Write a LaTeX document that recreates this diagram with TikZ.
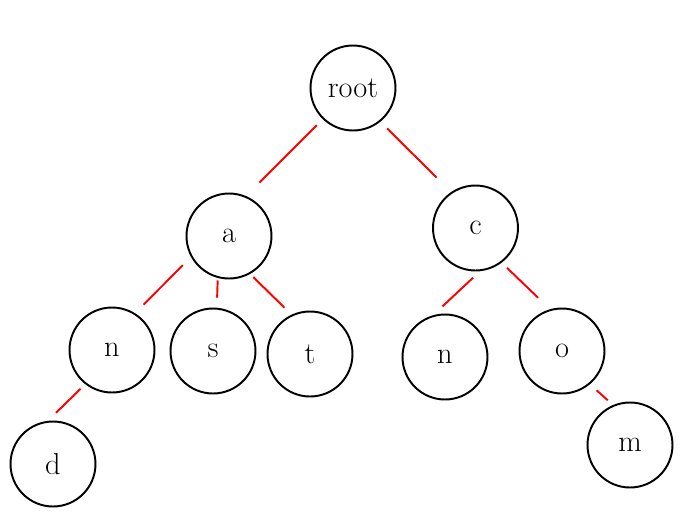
\documentclass[tikz,border=0pt]{standalone}
\begin{document}
\begin{tikzpicture}[
				x=0.02cm, y=-0.02cm,
				trienode/.style={circle, draw, line width=1.1pt, minimum size=1.7cm, inner sep=0pt, font=\LARGE},
				trieedge/.style={red, line width=1.1pt}
			]
			\useasboundingbox (0,0) rectangle (691,525);
			\node[trienode] (root) at (353,88) { root };
			\node[trienode] (a) at (229,236) { a };
			\node[trienode] (c) at (475.5,228) { c };
			\node[trienode] (an) at (112,350) { n };
			\node[trienode] (as) at (213,351) { s };
			\node[trienode] (at) at (310,354) { t };
			\node[trienode] (cn) at (445,357) { n };
			\node[trienode] (co) at (562,351) { o };
			\node[trienode] (and) at (53,464) { d };
			\node[trienode] (com) at (630,445) { m };
			\draw[trieedge, shorten <=0.17cm, shorten >=0.38cm] (root.226) -- (a.67);
			\draw[trieedge, shorten <=0.19cm, shorten >=0.41cm] (root.309) -- (c.124);
			\draw[trieedge, shorten <=0.23cm, shorten >=0.24cm] (a.209) -- (an.58);
			\draw[trieedge, shorten <=0.05cm, shorten >=0.2cm] (a.255) -- (as.85);
			\draw[trieedge, shorten <=0.09cm, shorten >=0.2cm] (a.299) -- (at.115);
			\draw[trieedge, shorten <=0.13cm, shorten >=0.23cm] (an.232) -- (and.97);
			\draw[trieedge, shorten <=0.19cm, shorten >=0.26cm] (c.276) -- (cn.106);
			\draw[trieedge, shorten <=0.15cm, shorten >=0.33cm] (c.307) -- (co.106);
			\draw[trieedge, shorten <=0.18cm, shorten >=0.14cm] (co.310) -- (com.113);
		\end{tikzpicture}
\end{document}
